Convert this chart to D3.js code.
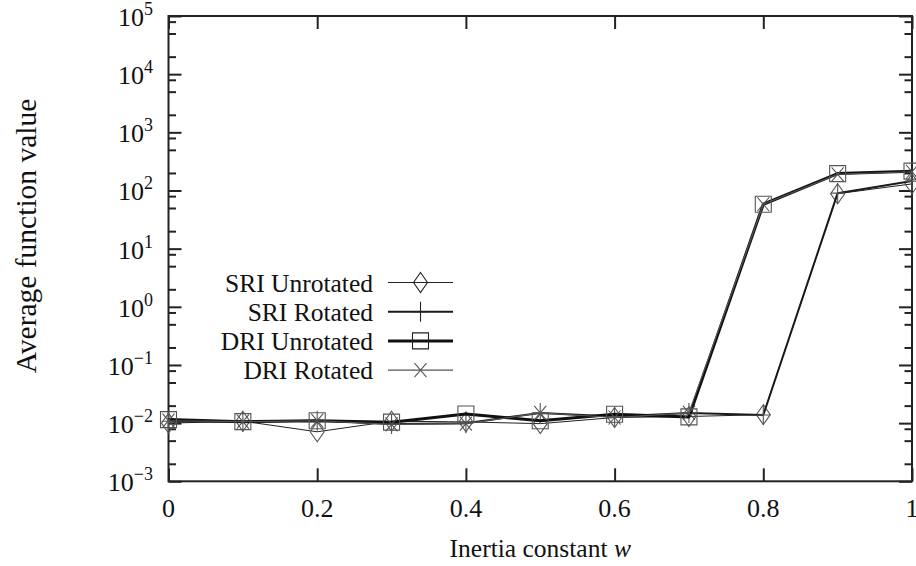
<!DOCTYPE html>
<html>
<head>
<meta charset="utf-8">
<script src="https://cdn.jsdelivr.net/npm/d3@7"></script>
<style>
  html, body { margin: 0; padding: 0; background: #fff; }
  svg { display: block; }
  text { font-family: "Liberation Serif", "Times New Roman", serif; fill: #111; }
</style>
</head>
<body>
<svg id="chart" width="916" height="566"></svg>
<script>
// ---- data ----
const inertia = [0, 0.1, 0.2, 0.3, 0.4, 0.5, 0.6, 0.7, 0.8, 0.9, 1.0];
const sriUnrotated = [0.0100, 0.0108, 0.0071, 0.0108, 0.0105, 0.0098, 0.0125, 0.0130, 0.0140, 88, 130];
const sriRotated   = [0.0108, 0.0106, 0.0110, 0.0097, 0.0100, 0.0150, 0.0130, 0.0150, 0.0138, 90, 145];
const driUnrotated = [0.0115, 0.0106, 0.0110, 0.0104, 0.0144, 0.0110, 0.0142, 0.0128, 58, 195, 215];
const driRotated   = [0.0110, 0.0106, 0.0110, 0.0095, 0.0098, 0.0150, 0.0125, 0.0150, 58, 190, 210];
const seriesNames = ["SRI Unrotated", "SRI Rotated", "DRI Unrotated", "DRI Rotated"];
const xTickValues = [0, 0.2, 0.4, 0.6, 0.8, 1];
const xTickLabels = ["0", "0.2", "0.4", "0.6", "0.8", "1"];
const yMajorExponents = [-3, -2, -1, 0, 1, 2, 3, 4, 5];
const yMinorMultipliers = [2, 5, 8];
const xTitle = "Inertia constant ";
const xTitleVar = "w";
const yTitle = "Average function value";

// ---- layout ----
const svg = d3.select("#chart");
const L = 168.5, R = 912, T = 16, B = 481.3;
const x = d3.scaleLinear().domain([0, 1]).range([L, R]);
const y = d3.scaleLog().domain([1e-3, 1e5]).range([B, T]);

const styles = [
  { w: 1.0, c: "#222", marker: "diamond" },
  { w: 2.0, c: "#1a1a1a", marker: "plus" },
  { w: 3.0, c: "#111", marker: "square" },
  { w: 1.2, c: "#555", marker: "cross" }
];
const data = [sriUnrotated, sriRotated, driUnrotated, driRotated];

function markerPath(type) {
  const p = d3.path();
  if (type === "diamond") { p.moveTo(0, -10); p.lineTo(7, 0); p.lineTo(0, 10); p.lineTo(-7, 0); p.closePath(); }
  else if (type === "plus") { p.moveTo(0, -10); p.lineTo(0, 10); p.moveTo(-7, 0); p.lineTo(7, 0); }
  else if (type === "square") { p.rect(-8, -8, 16, 16); }
  else if (type === "cross") { p.moveTo(-6, -7); p.lineTo(6, 7); p.moveTo(-6, 7); p.lineTo(6, -7); }
  return p.toString();
}

// ---- axes ----
const yMajor = yMajorExponents.map(e => Math.pow(10, e));
const yMinor = [];
yMajorExponents.slice(0, -1).forEach(e => yMinorMultipliers.forEach(m => yMinor.push(m * Math.pow(10, e))));

function styleAxis(g) {
  g.select(".domain").remove();
  g.selectAll(".tick line").attr("stroke", "#222").attr("stroke-width", 2);
  g.selectAll(".tick text").remove();
}
svg.append("g").attr("transform", `translate(0,${B})`)
  .call(d3.axisBottom(x).tickValues(xTickValues).tickSize(-13)).call(styleAxis);
svg.append("g").attr("transform", `translate(0,${T})`)
  .call(d3.axisTop(x).tickValues(xTickValues).tickSize(-13)).call(styleAxis);
svg.append("g").attr("transform", `translate(${L},0)`)
  .call(d3.axisLeft(y).tickValues(yMajor).tickSize(-13)).call(styleAxis);
svg.append("g").attr("transform", `translate(${L},0)`)
  .call(d3.axisLeft(y).tickValues(yMinor).tickSize(-7.5)).call(styleAxis);
svg.append("g").attr("transform", `translate(${R},0)`)
  .call(d3.axisRight(y).tickValues(yMajor).tickSize(-13)).call(styleAxis);
svg.append("g").attr("transform", `translate(${R},0)`)
  .call(d3.axisRight(y).tickValues(yMinor).tickSize(-7.5)).call(styleAxis);

// frame
svg.append("rect").attr("x", L).attr("y", T).attr("width", R - L).attr("height", B - T)
  .attr("fill", "none").attr("stroke", "#222").attr("stroke-width", 2);

// x tick labels
svg.append("g").selectAll("text").data(xTickValues).join("text")
  .attr("x", d => x(d)).attr("y", B + 36).attr("text-anchor", "middle")
  .attr("font-size", 26).text((d, i) => xTickLabels[i]);

// y tick labels
const yl = svg.append("g").selectAll("text").data(yMajorExponents).join("text")
  .attr("x", 153).attr("y", d => y(Math.pow(10, d)) + 10).attr("text-anchor", "end")
  .attr("font-size", 26);
yl.append("tspan").text("10");
yl.append("tspan").attr("dy", -11).attr("font-size", 18)
  .text(d => d < 0 ? "\u2212" + Math.abs(d) : String(d));

// titles
const xt = svg.append("text").attr("x", (L + R) / 2).attr("y", 557)
  .attr("text-anchor", "middle").attr("font-size", 25.5);
xt.append("tspan").text(xTitle);
xt.append("tspan").attr("font-style", "italic").text(xTitleVar);

svg.append("text").attr("transform", `translate(36,236) rotate(-90)`)
  .attr("text-anchor", "middle").attr("font-size", 29.5).text(yTitle);

// ---- series ----
const line = d3.line().x((d, i) => x(inertia[i])).y(d => y(d));
data.forEach((vals, s) => {
  const st = styles[s];
  const g = svg.append("g");
  g.append("path").datum(vals).attr("d", line).attr("fill", "none")
    .attr("stroke", st.c).attr("stroke-width", st.w).attr("stroke-linejoin", "round");
  g.selectAll("path.mk").data(vals).join("path").attr("class", "mk")
    .attr("transform", (d, i) => `translate(${x(inertia[i])},${y(d)})`)
    .attr("d", markerPath(st.marker)).attr("fill", "none")
    .attr("stroke", "#555").attr("stroke-width", 1.1);
});

// ---- legend ----
const legY0 = 282.5, legDy = 29.2;
seriesNames.forEach((name, i) => {
  const st = styles[i];
  const ly = legY0 + i * legDy;
  svg.append("text").attr("x", 373).attr("y", ly + 9).attr("text-anchor", "end")
    .attr("font-size", 25.5).text(name);
  svg.append("line").attr("x1", 388).attr("x2", 453).attr("y1", ly).attr("y2", ly)
    .attr("stroke", st.c).attr("stroke-width", st.w);
  svg.append("path").attr("transform", `translate(420.5,${ly})`)
    .attr("d", markerPath(st.marker)).attr("fill", "none")
    .attr("stroke", i === 3 ? "#555" : "#222").attr("stroke-width", 1.1);
});
</script>
</body>
</html>
